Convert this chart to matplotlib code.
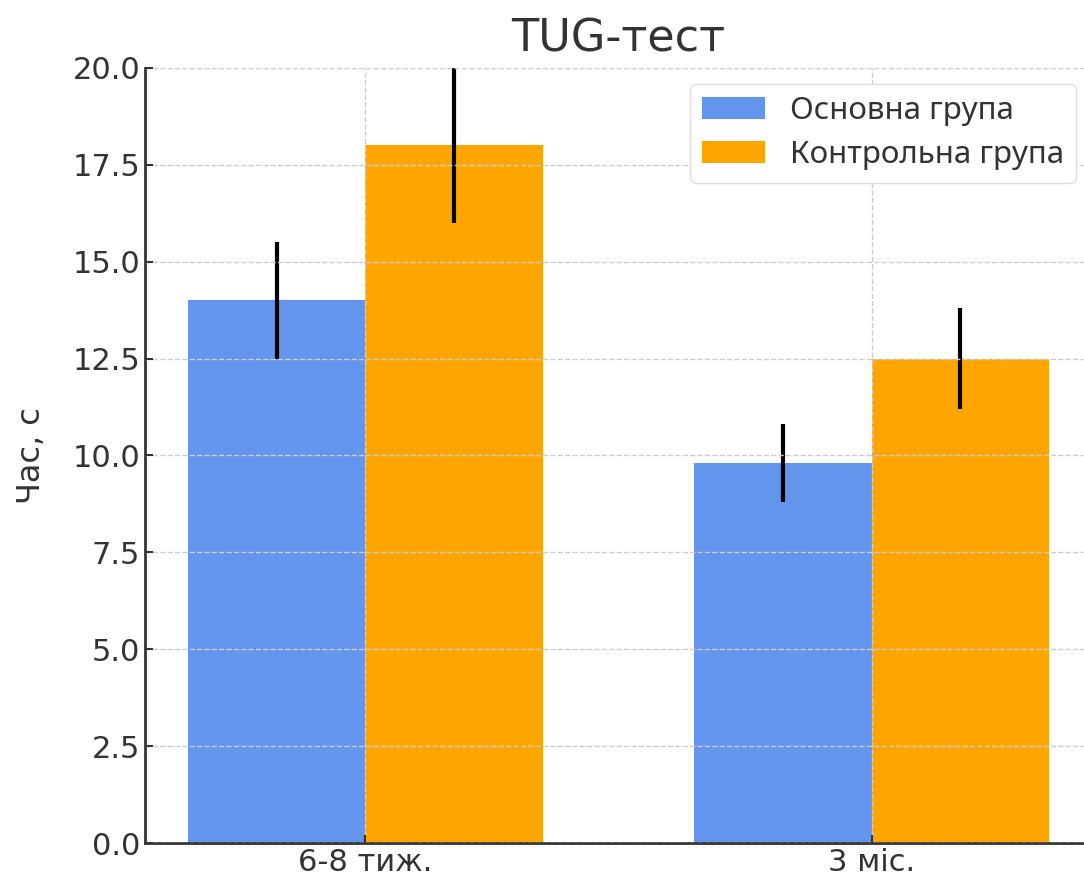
import numpy as np
import matplotlib.pyplot as plt

# data
categories = ['6-8 тиж.', '3 міс.']
main_group = [14.0, 9.8]
main_err = [1.5, 1.0]
control_group = [18.0, 12.5]
control_err = [2.0, 1.3]
labels = ['Основна група', 'Контрольна група']

plt.rcParams['font.family'] = ['DejaVu Sans']

fig = plt.figure(figsize=(10.84, 8.83), dpi=100)
ax = fig.add_axes([0.1338, 0.0453, 0.8735, 0.8777])

x = np.arange(len(categories))
width = 0.35

ax.bar(x - width / 2, main_group, width, yerr=main_err, color='#6495ED',
       label=labels[0], error_kw=dict(elinewidth=3, ecolor='black', capsize=0))
ax.bar(x + width / 2, control_group, width, yerr=control_err, color='#FFA500',
       label=labels[1], error_kw=dict(elinewidth=3, ecolor='black', capsize=0))

ax.set_ylim(0, 20)
ax.set_xticks(x)
ax.set_xticklabels(categories)
ax.set_ylabel('Час, с', fontsize=23, color='#333333', labelpad=18)
ax.set_title('TUG-тест', fontsize=32, color='#333333', pad=12)

ax.grid(True, linestyle='--', color='#cccccc', linewidth=1)
ax.set_axisbelow(False)
ax.tick_params(direction='in', labelsize=22, labelcolor='#333333', color='#333333', length=6, width=1.5)
for s in ['top', 'right']:
    ax.spines[s].set_visible(False)
for s in ['left', 'bottom']:
    ax.spines[s].set_color('#333333')
    ax.spines[s].set_linewidth(2)

leg = ax.legend(prop={'family': 'Noto Sans', 'size': 22.5}, loc='upper right',
                framealpha=1, edgecolor='#dddddd', fancybox=True,
                handlelength=2.0, labelspacing=0.45)
for t in leg.get_texts():
    t.set_color('#333333')

fig.savefig('out.png', dpi=100)
